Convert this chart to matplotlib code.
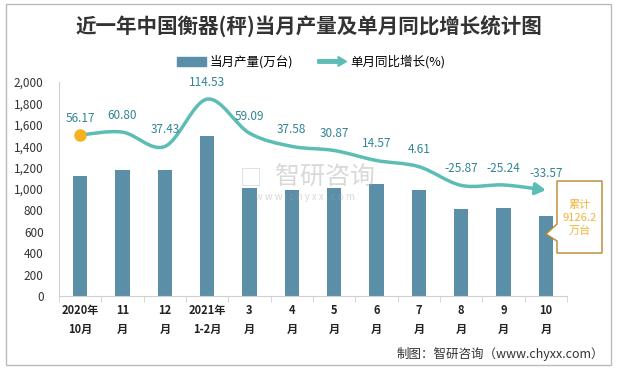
import numpy as np
import matplotlib
matplotlib.use('Agg')
import matplotlib.pyplot as plt
import matplotlib.patches as mpatches
from matplotlib.path import Path
from matplotlib.legend_handler import HandlerPatch

plt.rcParams['font.family'] = ['Noto Sans CJK SC', 'DejaVu Sans']

# data
months = ['2020年\n10月', '11\n月', '12\n月', '2021年\n1-2月', '3\n月', '4\n月',
          '5\n月', '6\n月', '7\n月', '8\n月', '9\n月', '10\n月']
output = [1125, 1178, 1178, 1495, 1009, 990, 1012, 1047, 990, 813, 822, 748]
growth = [56.17, 60.80, 37.43, 114.53, 59.09, 37.58, 30.87, 14.57, 4.61, -25.87, -25.24, -33.57]
cum_text = '累计\n9126.2\n万台'

bar_color = '#5B8FA8'
line_color = '#5CBDB4'
label_color = '#2F8593'

W, H = 617, 369
fig = plt.figure(figsize=(W / 100, H / 100), dpi=100)
ax = fig.add_axes([59 / W, 1 - 296 / H, (567 - 59) / W, (296 - 82) / H])

x = np.arange(len(months))
ax.bar(x, output, width=0.34, color=bar_color, zorder=2)
ax.set_xlim(-0.5, len(months) - 0.5)
ax.set_ylim(0, 2000)
ax.set_yticks(range(0, 2001, 200))
ax.set_yticklabels([f'{v:,}' for v in range(0, 2001, 200)], fontsize=8.5, color='#333333')
ax.set_xticks(x)
ax.set_xticklabels(months, fontsize=8, fontweight='bold', color='#222222', linespacing=1.6)
ax.set_xticks(np.arange(-0.5, len(months)), minor=True)
ax.tick_params(axis='x', which='major', length=0, pad=6)
ax.tick_params(axis='x', which='minor', length=4, color='#D0D0D0')
ax.tick_params(axis='y', length=0, pad=11)
for s in ['top', 'right']:
    ax.spines[s].set_visible(False)
ax.spines['left'].set_color('#D0D0D0')
ax.spines['bottom'].set_color('#D0D0D0')

# growth on hidden secondary axis
ax2 = ax.twinx()
ax2.set_ylim(-206, 142.4)
ax2.axis('off')

# smooth curve (Catmull-Rom as cubic bezier)
pts = np.column_stack([x, growth]).astype(float)
ext = np.vstack([pts[0], pts, pts[-1]])
verts = [tuple(pts[0])]
codes = [Path.MOVETO]
for i in range(len(pts) - 1):
    p0, p1, p2, p3 = ext[i], ext[i + 1], ext[i + 2], ext[i + 3]
    c1 = p1 + (p2 - p0) / 6
    c2 = p2 - (p3 - p1) / 6
    verts += [tuple(c1), tuple(c2), tuple(p2)]
    codes += [Path.CURVE4] * 3
curve = mpatches.FancyArrowPatch(path=Path(verts, codes),
                                 arrowstyle='-|>,head_length=6,head_width=3.5',
                                 color=line_color, lw=2.5, zorder=3)
ax2.add_patch(curve)
ax2.plot(x[0], growth[0], 'o', color='#F5B120', markersize=8, zorder=4)

for xi, g in zip(x, growth):
    ax2.annotate(f'{g:.2f}', (xi, g), xytext=(0, 12), textcoords='offset points',
                 ha='center', va='center', fontsize=8.5, color=label_color)

# watermark
fig.text(251 / W, 1 - 178 / H, '□', fontsize=16, color='#9AA8C8', alpha=0.4,
         ha='center', va='center')
fig.text(325 / W, 1 - 177 / H, '智研咨询', fontsize=18, color='#A0A0A0', alpha=0.4,
         ha='center', va='center')
fig.text(305 / W, 1 - 197 / H, 'w w w . c h y x x . c o m', fontsize=7, color='#A0A0A0',
         alpha=0.4, ha='center', va='center')

# callout box for cumulative
tr = fig.transFigure
def fpt(px, py):
    return (px / W, 1 - py / H)
callout = mpatches.Polygon([fpt(557, 181), fpt(602, 181), fpt(602, 253), fpt(557, 253),
                            fpt(557, 241), fpt(546, 234), fpt(557, 224)],
                           closed=True, transform=tr, facecolor='white',
                           edgecolor='#B8862B', lw=1, zorder=5)
fig.patches.append(callout)
fig.text(579.5 / W, 1 - 218 / H, cum_text, fontsize=8, color='#F2B53A', ha='center',
         va='center', linespacing=1.35, zorder=6)

# legend
def make_arrow(legend, orig_handle, xdescent, ydescent, width, height, fontsize):
    return mpatches.FancyArrow(0, height / 2, width, 0, width=2.5, head_width=7,
                               head_length=6, length_includes_head=True)
bar_h = mpatches.Patch(color=bar_color, label='当月产量(万台)')
arr_h = mpatches.Patch(color=line_color, label='单月同比增长(%)')
fig.legend(handles=[bar_h, arr_h], loc='center', bbox_to_anchor=(311 / W, 1 - 62 / H),
           ncol=2, frameon=False, fontsize=9, handlelength=2.3, handleheight=0.7,
           columnspacing=2.0, handletextpad=0.3,
           handler_map={arr_h: HandlerPatch(patch_func=make_arrow)})

fig.text(309 / W, 1 - 27 / H, '近一年中国衡器(秤)当月产量及单月同比增长统计图',
         fontsize=14.8, fontweight='bold', color='#333333', ha='center', va='center')
fig.text(604 / W, 1 - 354 / H, '制图：智研咨询（www.chyxx.com）', fontsize=9,
         color='#333333', ha='right', va='center')

fig.patches.append(mpatches.Rectangle(fpt(6, 365), 605 / W, 361 / H, transform=tr,
                                      fill=False, edgecolor='#BBBBBB', lw=1))

fig.savefig('out.png', dpi=100)
